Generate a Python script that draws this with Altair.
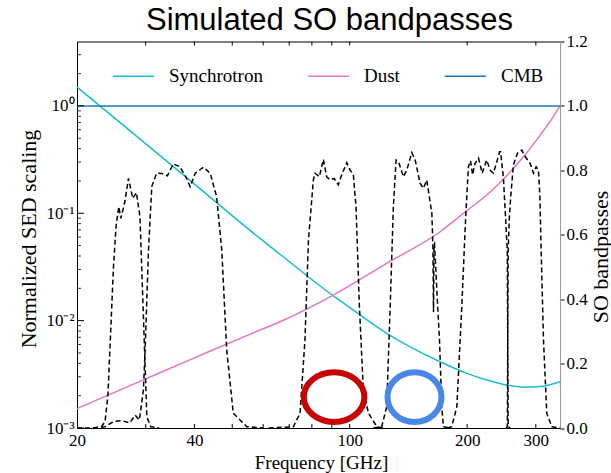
import altair as alt
import pandas as pd

# ---------------- data ----------------
sed_components = ["Synchrotron", "Dust", "CMB"]
sed_colors = ["#17becf", "#e377c2", "#1f77b4"]

sync_freq = [20, 31.4, 40, 58.9, 66.3, 90.8, 98.3, 124.4, 145.3, 170.4, 199.7, 224.6, 253.9, 278.9, 306.4, 346]
sync_val = [1.50, 0.387, 0.187, 0.0583, 0.0415, 0.0170, 0.01385, 0.00762, 0.00552, 0.00414, 0.00323, 0.0028, 0.00250, 0.00240, 0.00243, 0.0027]

dust_freq = [20, 29.0, 40.0, 58.9, 66.3, 90.8, 124.4, 170.6, 195.7, 229.2, 252.9, 278.9, 307.8, 333.0, 346]
dust_val = [0.00152, 0.00272, 0.0045, 0.00818, 0.00977, 0.0173, 0.0342, 0.0673, 0.100, 0.158, 0.225, 0.336, 0.535, 0.80, 1.0]

cmb_freq = [20, 346]
cmb_val = [1.0, 1.0]

band_names = ["27", "39", "93", "145", "225", "280"]
band_freqs = [
    [20.0, 22.0, 23.1, 23.6, 24.0, 24.4, 24.8, 25.2, 25.6, 25.9, 26.5, 27.1, 27.8, 28.4, 29.0, 29.3, 29.6, 30.2, 30.9, 32.5],
    [22.0, 23.6, 24.8, 26.0, 27.3, 28.2, 28.9, 29.6, 29.9, 30.5, 31.1, 32.0, 33.0, 34.1, 35.3, 36.7, 38.2, 39.0, 40.2, 42.2, 43.9, 45.6, 47.0, 48.4, 50.3, 54.5, 60.0],
    [62.0, 71.7, 74.6, 76.8, 78.4, 80.7, 81.5, 83.6, 85.6, 87.3, 89.1, 91.2, 93.5, 95.4, 98.3, 100.2, 102.2, 103.8, 105.9, 108.4, 111.7, 117.4, 122.0],
    [115.0, 120.8, 124.4, 127.0, 129.4, 131.5, 133.4, 137.3, 140.1, 144.3, 147.2, 151.5, 154.5, 157.6, 162.4, 163.4, 164.0, 164.5, 165.0, 167.2, 169.9, 172.2, 173.9, 180.0],
    [178.0, 182.7, 188.2, 193.8, 197.7, 199.7, 201.5, 204.0, 206.6, 209.3, 213.9, 218.6, 224.5, 229.0, 233.6, 238.4, 242.3, 243.6, 247.8, 251.5, 253.5, 254.2, 254.8, 258.0],
    [252.0, 253.6, 254.2, 254.8, 256.5, 258.9, 262.8, 269.2, 276.1, 281.6, 290.0, 295.8, 300.6, 304.6, 307.2, 309.3, 313.9, 320.0, 329.8, 346.0],
]
band_vals = [
    [0.0, 0.0, 0.004, 0.02, 0.1, 0.3, 0.5, 0.63, 0.687, 0.651, 0.70, 0.775, 0.713, 0.731, 0.656, 0.5, 0.346, 0.035, 0.004, 0.0],
    [0.0, 0.004, 0.02, 0.023, 0.016, 0.04, 0.025, 0.118, 0.242, 0.553, 0.75, 0.791, 0.79, 0.783, 0.82, 0.811, 0.775, 0.749, 0.791, 0.81, 0.791, 0.718, 0.553, 0.242, 0.046, 0.004, 0.0],
    [0.0, 0.004, 0.046, 0.273, 0.584, 0.77, 0.791, 0.78, 0.834, 0.78, 0.77, 0.775, 0.755, 0.786, 0.824, 0.801, 0.786, 0.687, 0.377, 0.118, 0.046, 0.004, 0.0],
    [0.0, 0.004, 0.066, 0.377, 0.687, 0.832, 0.827, 0.78, 0.801, 0.855, 0.832, 0.76, 0.744, 0.77, 0.667, 0.57, 0.36, 0.57, 0.573, 0.43, 0.273, 0.066, 0.004, 0.0],
    [0.0, 0.004, 0.066, 0.377, 0.62, 0.724, 0.811, 0.83, 0.786, 0.82, 0.838, 0.791, 0.832, 0.801, 0.791, 0.827, 0.858, 0.858, 0.775, 0.63, 0.55, 0.25, 0.004, 0.0],
    [0.0, 0.004, 0.3, 0.55, 0.65, 0.724, 0.817, 0.853, 0.863, 0.843, 0.822, 0.791, 0.811, 0.801, 0.724, 0.568, 0.273, 0.046, 0.004, 0.0],
]

# annotation ellipses (freq, bandpass value)
red_mark = {"freq": [91.2], "value": [0.096]}
blue_mark = {"freq": [146.6], "value": [0.096]}

x_label_values = [20, 40, 100, 200, 300]
x_tick_values = [30, 40, 50, 60, 70, 80, 90, 100, 200, 300]
y_major_values = [1e-3, 1e-2, 1e-1, 1.0]
y_minor_values = [m * d for d in [1e-3, 1e-2, 1e-1] for m in range(2, 10)] + [2.0, 3.0]
y_right_values = [0.0, 0.2, 0.4, 0.6, 0.8, 1.0, 1.2]

# ---------------- tables ----------------
sed_df = pd.DataFrame(
    [{"component": "Synchrotron", "freq": f, "value": v} for f, v in zip(sync_freq, sync_val)]
    + [{"component": "Dust", "freq": f, "value": v} for f, v in zip(dust_freq, dust_val)]
    + [{"component": "CMB", "freq": f, "value": v} for f, v in zip(cmb_freq, cmb_val)]
)
band_df = pd.DataFrame(
    [{"band": n, "freq": f, "value": v}
     for n, fs, vs in zip(band_names, band_freqs, band_vals)
     for f, v in zip(fs, vs)]
)
xt_df = pd.DataFrame({"freq": x_tick_values})
ymaj_df = pd.DataFrame({"value": y_major_values})
ymin_df = pd.DataFrame({"value": y_minor_values})

W, H = 483, 386.5
SERIF = "Liberation Serif"

x_enc = alt.X(
    "freq:Q",
    scale=alt.Scale(type="log", domain=[20, 346], nice=False),
    axis=alt.Axis(
        values=x_label_values, ticks=False, grid=False, labelPadding=4,
        labelFont=SERIF, labelFontSize=17, labelColor="black", labelFlush=False,
        domainColor="black", title="Frequency [GHz]", titleFont=SERIF,
        titleFontSize=19, titleFontWeight="normal", titleColor="black",
        titleX=244, titleY=40, titleBaseline="alphabetic",
    ),
)

left_axis = alt.Axis(
    values=y_major_values, ticks=False, grid=False, labelPadding=3,
    labelExpr="datum.value >= 0.5 ? '10⁰' : datum.value >= 0.05 ? '10⁻¹' : datum.value >= 0.005 ? '10⁻²' : '10⁻³'",
    labelFont=SERIF, labelFontSize=17, labelColor="black", labelFlush=False,
    domainColor="black", title="Normalized SED scaling", titleFont=SERIF,
    titleFontSize=22, titleFontWeight="normal", titleColor="black",
    titleX=-49, titleY=197, titleAngle=270, titleBaseline="middle",
)
left_scale = alt.Scale(type="log", domain=[1e-3, 10 ** 0.6], nice=False)

sed_lines = alt.Chart(sed_df).mark_line(strokeWidth=1.5, interpolate="monotone", clip=True).encode(
    x=x_enc,
    y=alt.Y("value:Q", scale=left_scale, axis=left_axis),
    color=alt.Color(
        "component:N",
        scale=alt.Scale(domain=sed_components, range=sed_colors),
        sort=sed_components,
        legend=alt.Legend(
            title=None, orient="none", legendX=35, legendY=13, direction="horizontal",
            symbolType="stroke", symbolSize=1681, symbolStrokeWidth=1.5,
            labelFont=SERIF, labelFontSize=19, labelColor="black", labelOffset=14,
            columnPadding=42, padding=0,
        ),
    ),
)

x_ticks_bottom = alt.Chart(xt_df).mark_rule(color="black", strokeWidth=1).encode(
    x=x_enc, y=alt.value(H), y2=alt.value(H - 4)
)
x_ticks_top = alt.Chart(xt_df).mark_rule(color="black", strokeWidth=1).encode(
    x=x_enc, y=alt.value(0), y2=alt.value(4)
)
y_ticks_major = alt.Chart(ymaj_df).mark_rule(color="black", strokeWidth=1).encode(
    y=alt.Y("value:Q", scale=left_scale, axis=left_axis), x=alt.value(0), x2=alt.value(7)
)
y_ticks_minor = alt.Chart(ymin_df).mark_rule(color="black", strokeWidth=0.8).encode(
    y=alt.Y("value:Q", scale=left_scale, axis=left_axis), x=alt.value(0), x2=alt.value(4)
)

left_layer = alt.layer(sed_lines, x_ticks_bottom, x_ticks_top, y_ticks_major, y_ticks_minor)

right_scale = alt.Scale(domain=[0, 1.2], nice=False, zero=False)
right_axis = alt.Axis(
    orient="right", values=y_right_values, format=".1f", tickSize=4, tickColor="black",
    grid=False, labelPadding=2, labelFont=SERIF, labelFontSize=17, labelColor="black",
    labelFlush=False, domainColor="#999999", title="SO bandpasses", titleFont=SERIF,
    titleFontSize=22, titleFontWeight="normal", titleColor="black",
    titleX=40, titleY=215, titleAngle=270, titleBaseline="middle",
)

bands = alt.Chart(band_df).mark_line(strokeWidth=1.5, strokeDash=[5, 3], color="black", clip=True).encode(
    x=x_enc,
    y=alt.Y("value:Q", scale=right_scale, axis=right_axis),
    detail="band:N",
)

ellipse_red = "M-1,0C-1,-0.454 -0.552,-0.822 0,-0.822C0.552,-0.822 1,-0.454 1,0C1,0.454 0.552,0.822 0,0.822C-0.552,0.822 -1,0.454 -1,0Z"
ellipse_blue = "M-1,0C-1,-0.509 -0.552,-0.922 0,-0.922C0.552,-0.922 1,-0.509 1,0C1,0.509 0.552,0.922 0,0.922C-0.552,0.922 -1,0.509 -1,0Z"

red_circle = alt.Chart(pd.DataFrame(red_mark)).mark_point(
    shape=ellipse_red, filled=False, strokeWidth=6, size=3672, color="#c80000", opacity=1
).encode(x=x_enc, y=alt.Y("value:Q", scale=right_scale, axis=right_axis))

blue_circle = alt.Chart(pd.DataFrame(blue_mark)).mark_point(
    shape=ellipse_blue, filled=False, strokeWidth=6, size=2916, color="#4a86e8", opacity=1
).encode(x=x_enc, y=alt.Y("value:Q", scale=right_scale, axis=right_axis))

right_layer = alt.layer(bands, red_circle, blue_circle)

chart = alt.layer(left_layer, right_layer).resolve_scale(y="independent").properties(
    width=W, height=H,
    autosize=alt.AutoSizeParams(type="none"),
    padding={"left": 77, "top": 41.5, "right": 51, "bottom": 45},
    background="white",
    title=alt.TitleParams(
        "Simulated SO bandpasses", font="Liberation Sans", fontSize=31,
        fontWeight="normal", color="black", anchor="middle", frame="group",
        offset=-4, dx=11,
    ),
).configure_view(stroke="black", strokeWidth=1)

chart.save("out.html", embed_options={"renderer": "svg", "actions": False})
